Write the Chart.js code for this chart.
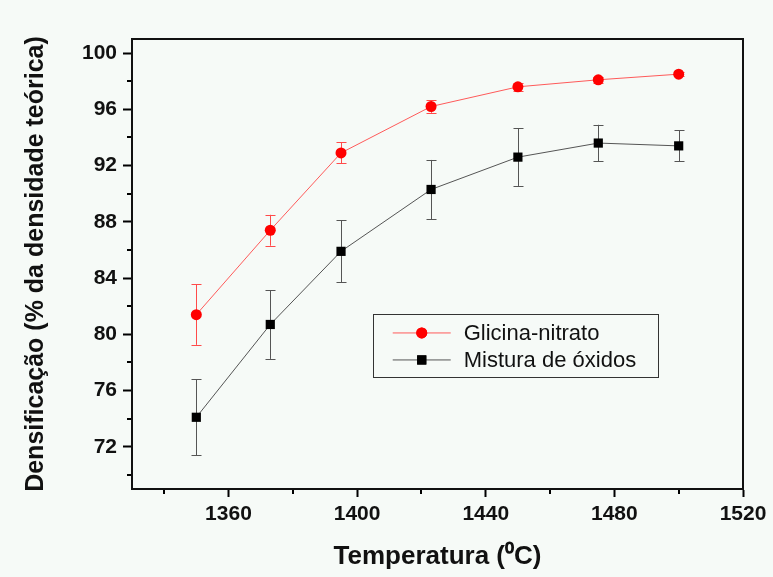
<!DOCTYPE html>
<html>
<head>
<meta charset="utf-8">
<title>Densificação x Temperatura</title>
<script src="https://cdn.jsdelivr.net/npm/chart.js@4.4.0/dist/chart.umd.min.js"></script>
<style>
    html, body { margin: 0; padding: 0; background: #f6faf7; }
    #wrap { width: 773px; height: 577px; }
</style>
</head>
<body>
<div id="wrap"><canvas id="grafico" width="773" height="577"></canvas></div>
<script>
// ===== Dados =====
const temperaturas = [1350, 1373, 1395, 1423, 1450, 1475, 1500];

const glicinaNitrato = [81.4, 87.4, 92.9, 96.2, 97.6, 98.1, 98.5];
const glicinaErro = [2.15, 1.1, 0.75, 0.45, 0.3, 0.2, 0.15];

const misturaOxidos = [74.1, 80.7, 85.9, 90.3, 92.6, 93.6, 93.4];
const misturaErro = [2.7, 2.45, 2.2, 2.1, 2.05, 1.3, 1.1];

const xTicks = [1360, 1400, 1440, 1480, 1520];
const xMinorTicks = [1340, 1380, 1420, 1460, 1500];
const yTicks = [72, 76, 80, 84, 88, 92, 96, 100];
const yMinorTicks = [70, 74, 78, 82, 86, 90, 94, 98];

const FONTE = "'Liberation Sans', Arial, sans-serif";
const FUNDO = '#f6faf7';

function pontos(ys) {
    return temperaturas.map((t, i) => ({ x: t, y: ys[i] }));
}

// fundo da figura inteira
const fundoPlugin = {
    id: 'fundo',
    beforeDraw(chart) {
        const ctx = chart.ctx;
        ctx.save();
        ctx.fillStyle = FUNDO;
        ctx.fillRect(0, 0, chart.width, chart.height);
        ctx.restore();
    }
};

// barras de erro (desenhadas antes dos marcadores)
const barrasErroPlugin = {
    id: 'barrasErro',
    beforeDatasetsDraw(chart) {
        const ctx = chart.ctx;
        const x = chart.scales.x;
        const y = chart.scales.y;
        ctx.save();
        chart.data.datasets.forEach(ds => {
            ctx.strokeStyle = ds.errorColor;
            ctx.lineWidth = 1;
            ds.data.forEach((p, i) => {
                const e = ds.errors[i];
                const px = Math.round(x.getPixelForValue(p.x)) + 0.5;
                const top = y.getPixelForValue(p.y + e);
                const bot = y.getPixelForValue(p.y - e);
                ctx.beginPath();
                ctx.moveTo(px, top);
                ctx.lineTo(px, bot);
                ctx.moveTo(px - 5, Math.round(top) + 0.5);
                ctx.lineTo(px + 5, Math.round(top) + 0.5);
                ctx.moveTo(px - 5, Math.round(bot) + 0.5);
                ctx.lineTo(px + 5, Math.round(bot) + 0.5);
                ctx.stroke();
            });
        });
        ctx.restore();
    }
};

// moldura, marcas menores e legenda
const molduraPlugin = {
    id: 'moldura',
    afterDraw(chart) {
        const ctx = chart.ctx;
        const a = chart.chartArea;
        const x = chart.scales.x;
        const y = chart.scales.y;
        ctx.save();

        // marcas menores
        ctx.strokeStyle = '#000';
        ctx.lineWidth = 2;
        ctx.beginPath();
        xMinorTicks.forEach(v => {
            const px = Math.round(x.getPixelForValue(v));
            ctx.moveTo(px, a.bottom);
            ctx.lineTo(px, a.bottom + 5);
        });
        yMinorTicks.forEach(v => {
            const py = Math.round(y.getPixelForValue(v));
            ctx.moveTo(a.left, py);
            ctx.lineTo(a.left - 5, py);
        });
        ctx.stroke();

        // moldura
        ctx.strokeStyle = '#111';
        ctx.lineWidth = 2;
        ctx.strokeRect(a.left, a.top, a.right - a.left, a.bottom - a.top);

        // legenda
        const bx = a.left + 0.394 * (a.right - a.left);
        const by = a.top + 0.611 * (a.bottom - a.top);
        const bw = 285, bh = 63;
        ctx.fillStyle = FUNDO;
        ctx.fillRect(bx, by, bw, bh);
        ctx.strokeStyle = '#333';
        ctx.lineWidth = 1;
        ctx.strokeRect(Math.round(bx) + 0.5, Math.round(by) + 0.5, bw, bh);

        chart.data.datasets.forEach((ds, i) => {
            const ly = by + 19 + i * 27;
            ctx.strokeStyle = ds.borderColor;
            ctx.lineWidth = 1;
            ctx.beginPath();
            ctx.moveTo(bx + 20, ly);
            ctx.lineTo(bx + 78, ly);
            ctx.stroke();
            ctx.fillStyle = ds.pointBackgroundColor;
            Chart.helpers.drawPoint(ctx, {
                pointStyle: ds.pointStyle,
                radius: ds.pointRadius,
                borderWidth: 0,
                rotation: 0
            }, bx + 49, ly);
            ctx.fill();
            ctx.fillStyle = '#111';
            ctx.font = '22px ' + FONTE;
            ctx.textBaseline = 'middle';
            ctx.textAlign = 'left';
            ctx.fillText(ds.label, bx + 91, ly + 1);
        });
        ctx.restore();
    }
};

const fonteTick = { family: FONTE, size: 21, weight: 'bold' };

new Chart(document.getElementById('grafico'), {
    type: 'line',
    data: {
        datasets: [
            {
                label: 'Glicina-nitrato',
                data: pontos(glicinaNitrato),
                errors: glicinaErro,
                errorColor: '#ff4a4a',
                borderColor: '#ff5a5a',
                borderWidth: 1,
                pointStyle: 'circle',
                pointRadius: 5.5,
                pointBackgroundColor: '#ff0000',
                pointBorderColor: '#ff0000',
                pointBorderWidth: 0,
                tension: 0
            },
            {
                label: 'Mistura de óxidos',
                data: pontos(misturaOxidos),
                errors: misturaErro,
                errorColor: '#555555',
                borderColor: '#555555',
                borderWidth: 1,
                pointStyle: 'rect',
                pointRadius: 6.5,
                pointBackgroundColor: '#000000',
                pointBorderColor: '#000000',
                pointBorderWidth: 0,
                tension: 0
            }
        ]
    },
    options: {
        responsive: false,
        animation: false,
        layout: { padding: { top: 39, right: 30, left: 0, bottom: 0 } },
        plugins: {
            legend: { display: false },
            tooltip: { enabled: false }
        },
        scales: {
            x: {
                type: 'linear',
                min: 1330,
                max: 1520,
                afterBuildTicks: s => { s.ticks = xTicks.map(v => ({ value: v })); },
                afterFit: s => { s.height = 88; },
                grid: { drawOnChartArea: false, tickLength: 8, tickColor: '#000', tickWidth: 2 },
                border: { color: '#000', width: 2 },
                ticks: {
                    font: fonteTick,
                    color: '#111',
                    padding: 5,
                    maxRotation: 0,
                    callback: v => String(v)
                },
                title: {
                    display: true,
                    text: 'Temperatura (⁰C)',
                    font: { family: FONTE, size: 26, weight: 'bold' },
                    color: '#111',
                    padding: { top: 0, bottom: 5 }
                }
            },
            y: {
                type: 'linear',
                min: 69,
                max: 101,
                afterBuildTicks: s => { s.ticks = yTicks.map(v => ({ value: v })); },
                afterFit: s => { s.width = 132; },
                grid: { drawOnChartArea: false, tickLength: 9, tickColor: '#000', tickWidth: 2 },
                border: { color: '#000', width: 2 },
                ticks: { font: fonteTick, color: '#111', padding: 6, callback: v => String(v) },
                title: {
                    display: true,
                    text: 'Densificação (% da densidade teórica)',
                    font: { family: FONTE, size: 25, weight: 'bold' },
                    color: '#111',
                    padding: { top: 21, bottom: 0 }
                }
            }
        }
    },
    plugins: [fundoPlugin, barrasErroPlugin, molduraPlugin]
});
</script>
</body>
</html>
